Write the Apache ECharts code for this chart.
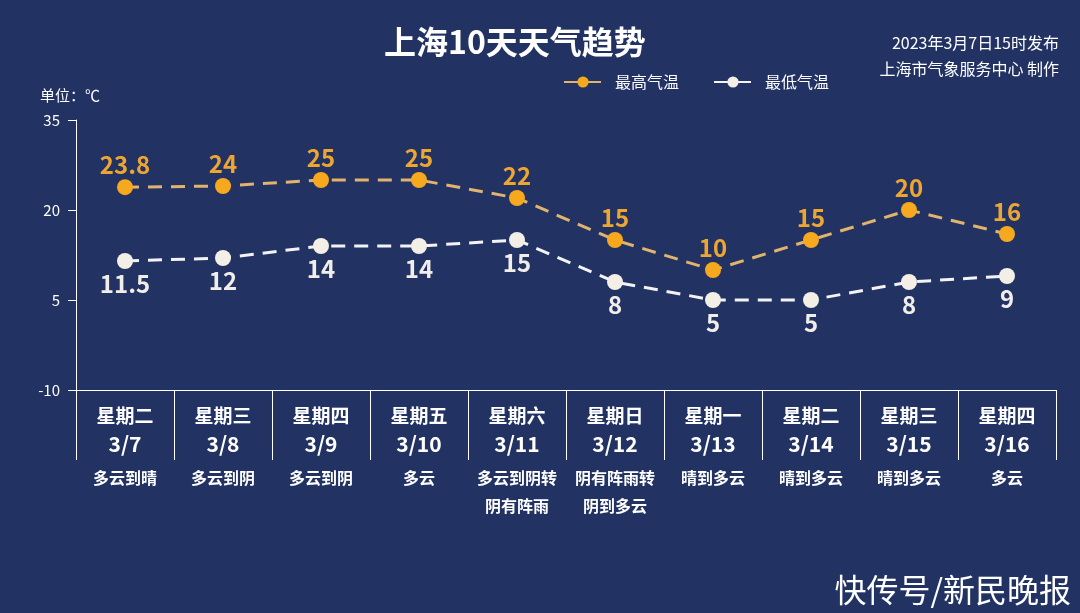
<!DOCTYPE html>
<html><head><meta charset="utf-8">
<script src="https://cdn.jsdelivr.net/npm/echarts@6/dist/echarts.min.js"></script>
<style>html,body{margin:0;padding:0;background:#223263;}#c{width:1080px;height:613px;}</style>
</head><body><div id="c"></div>
<script>
const weekdays = ['星期二','星期三','星期四','星期五','星期六','星期日','星期一','星期二','星期三','星期四'];
const dates = ['3/7','3/8','3/9','3/10','3/11','3/12','3/13','3/14','3/15','3/16'];
const conditions = ['多云到晴','多云到阴','多云到阴','多云','多云到阴转\n阴有阵雨','阴有阵雨转\n阴到多云','晴到多云','晴到多云','晴到多云','多云'];
const highTemps = [23.8, 24, 25, 25, 22, 15, 10, 15, 20, 16];
const lowTemps = [11.5, 12, 14, 14, 15, 8, 5, 5, 8, 9];
const yTicks = {min: -10, max: 35, interval: 15};

const cats = dates.map((d, i) => i);
const font = '"Microsoft YaHei","Noto Sans CJK SC",sans-serif';
const chart = echarts.init(document.getElementById('c'));
chart.setOption({
  backgroundColor: '#223263',
  textStyle: {fontFamily: font},
  title: [
    {text: '上海10天天气趋势', left: 379, top: 21, textStyle: {color: '#fff', fontSize: 32, fontWeight: 'bold', fontFamily: font}},
    {text: '2023年3月7日15时发布', right: 16, top: 30,
     textStyle: {color: '#fff', fontSize: 16, fontWeight: 'normal', fontFamily: font}},
    {text: '上海市气象服务中心 制作', right: 16, top: 56,
     textStyle: {color: '#fff', fontSize: 16, fontWeight: 'normal', fontFamily: font}},
    {text: '快传号/新民晚报', right: 4, bottom: 2, textStyle: {color: '#fff', fontSize: 32, fontWeight: 'normal', fontFamily: font}}
  ],
  legend: {
    left: 558, top: 69, itemWidth: 38, itemHeight: 14, itemGap: 34,
    textStyle: {color: '#fff', fontSize: 16, padding: [0, 0, 0, 8], fontFamily: font},
    data: ['最高气温', '最低气温']
  },
  grid: {left: 76, right: 24, top: 120, bottom: 223},
  xAxis: [
    {
      type: 'category', data: cats, boundaryGap: true,
      axisLine: {onZero: false, lineStyle: {color: '#fff', width: 1}},
      axisTick: {show: true, length: 70, lineStyle: {color: '#fff', width: 1}},
      axisLabel: {
        margin: 12, interval: 0,
        formatter: (v) => '{w|' + weekdays[v] + '}\n{d|' + dates[v] + '}',
        rich: {
          w: {color: '#fff', fontSize: 19, fontWeight: 'bold', lineHeight: 28, fontFamily: font},
          d: {color: '#fff', fontSize: 21, fontWeight: 'bold', lineHeight: 28, fontFamily: font}
        }
      }
    },
    {
      type: 'category', data: cats, position: 'bottom', boundaryGap: true,
      axisLine: {show: false, onZero: false}, axisTick: {show: false},
      axisLabel: {
        margin: 74, interval: 0, color: '#fff', fontSize: 16, fontWeight: 'bold', lineHeight: 28, fontFamily: font,
        formatter: (v) => conditions[v]
      }
    }
  ],
  yAxis: {
    type: 'value', min: yTicks.min, max: yTicks.max, interval: yTicks.interval,
    name: '单位：℃', nameLocation: 'end', nameGap: 17,
    nameTextStyle: {color: '#fff', fontSize: 15, align: 'center', padding: [0, 12, 0, 0], fontFamily: font},
    axisLine: {show: true, lineStyle: {color: '#fff', width: 1}},
    axisTick: {show: true, length: 8, lineStyle: {color: '#fff'}},
    axisLabel: {color: '#fff', fontSize: 15, margin: 16, fontFamily: font},
    splitLine: {show: false}
  },
  series: [
    {
      name: '最高气温', type: 'line', data: highTemps,
      symbol: 'circle', symbolSize: 16,
      itemStyle: {color: '#f6a81e'},
      lineStyle: {color: '#e0b46c', width: 3, type: [14, 9]},
      label: {show: true, position: 'top', distance: 2, color: '#eea633', fontSize: 24, fontWeight: 'bold', fontFamily: font},
      z: 3
    },
    {
      name: '最低气温', type: 'line', data: lowTemps,
      symbol: 'circle', symbolSize: 16,
      itemStyle: {color: '#f3eee6'},
      lineStyle: {color: '#f3f3f6', width: 3, type: [14, 9]},
      label: {show: true, position: 'bottom', distance: 3, color: '#f1eee9', fontSize: 24, fontWeight: 'bold', fontFamily: font},
      z: 3
    }
  ]
});
</script></body></html>
